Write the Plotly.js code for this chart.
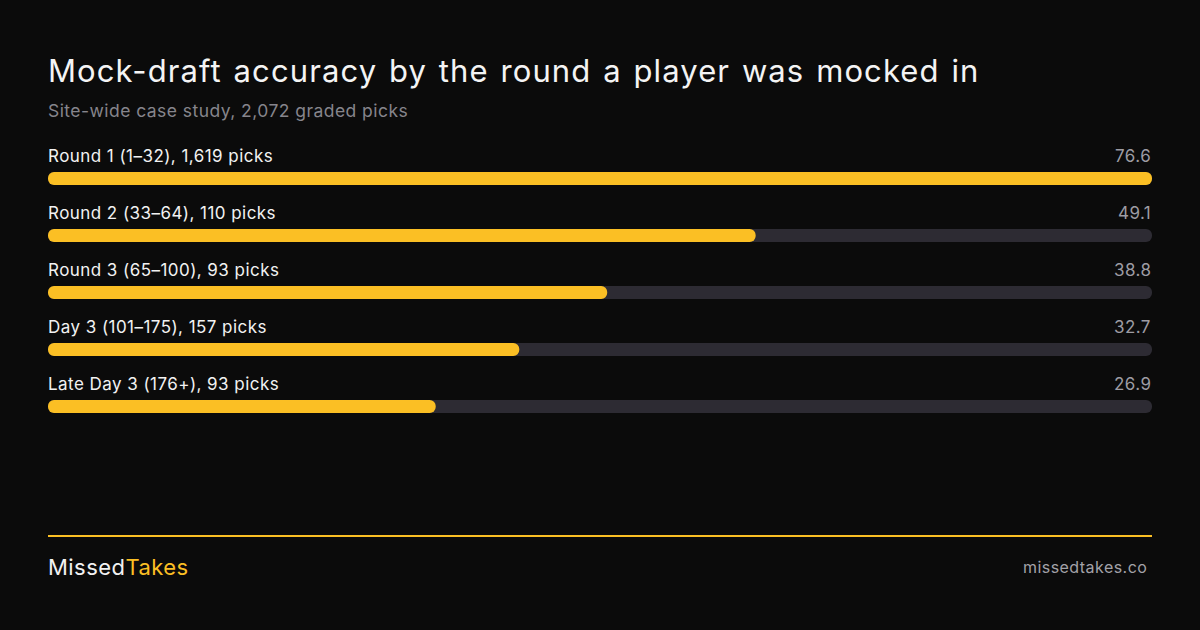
<!DOCTYPE html>
<html>
<head>
<meta charset="utf-8">
<script src="https://cdn.plot.ly/plotly-3.0.1.min.js"></script>
<style>
  html, body { margin: 0; padding: 0; background: #0b0b0b; }
  #chart { width: 1200px; height: 630px; }
  /* the reference type is set a little looser than Inter's default */
  .gtitle { letter-spacing: 1.1px; word-spacing: 2px; }
  .annotation-text { letter-spacing: 0.45px; }
</style>
</head>
<body>
<div id="chart"></div>
<script>
// data
var rounds = ["Round 1 (1–32)", "Round 2 (33–64)", "Round 3 (65–100)", "Day 3 (101–175)", "Late Day 3 (176+)"];
var picks = [1619, 110, 93, 157, 93];
var accuracy = [76.6, 49.1, 38.8, 32.7, 26.9];

var W = 1200, H = 630;
var M = {l: 48, r: 48, t: 150, b: 195};
var yellow = "#fbbf24";
var font = "Inter, 'Noto Sans', sans-serif";

// convert a pixel row to paper coords
function py(pix) {
    return (H - M.b - pix) / (H - M.t - M.b);
}

var idx = rounds.map(function(r, i){ return i; });
var maxVal = Math.max.apply(null, accuracy);
var labels = rounds.map(function(r, i){
    return r + ", " + picks[i].toLocaleString("en-US") + " picks";
});

// with an explicit base plotly rounds both ends of the bar
function pill(vals, color) {
    return {
        type: "bar", orientation: "h", y: idx, x: vals,
        base: vals.map(function(){ return 0; }),
        width: 0.23, marker: {color: color, cornerradius: 7},
        hoverinfo: "skip"
    };
}

var trackVals = accuracy.map(function(){ return maxVal; });
var traces = [pill(trackVals, "#2d2b33"), pill(accuracy, yellow)];

var annotations = [];
idx.forEach(function(i){
    annotations.push({
        x: 0, xref: "paper", xshift: -2, y: i, yref: "y",
        xanchor: "left", yanchor: "middle", yshift: 23,
        text: labels[i], showarrow: false,
        font: {family: font, size: 17, color: "#f2f2f2"}
    });
    annotations.push({
        x: 1, xref: "paper", xshift: 1, y: i, yref: "y",
        xanchor: "right", yanchor: "middle", yshift: 23,
        text: accuracy[i].toFixed(1), showarrow: false,
        font: {family: font, size: 17, color: "#9d9ca3"}
    });
});

annotations.push({
    x: 0, xref: "paper", xshift: -2, y: py(110), yref: "paper",
    xanchor: "left", yanchor: "middle",
    text: "Site-wide case study, 2,072 graded picks", showarrow: false,
    font: {family: font, size: 17.5, color: "#86858c"}
});
annotations.push({
    x: 0, xref: "paper", xshift: -2, y: py(567), yref: "paper",
    xanchor: "left", yanchor: "middle",
    text: "Missed<span style='color:" + yellow + "'>Takes</span>", showarrow: false,
    font: {family: font, size: 22, color: "#f2f2f2"}
});
annotations.push({
    x: 1, xref: "paper", xshift: -3, y: py(567), yref: "paper",
    xanchor: "right", yanchor: "middle",
    text: "missedtakes.co", showarrow: false,
    font: {family: font, size: 16, color: "#a3a2a8"}
});

var layout = {
    width: W, height: H,
    paper_bgcolor: "#0b0b0b",
    plot_bgcolor: "#0b0b0b",
    margin: M,
    showlegend: false,
    barmode: "overlay",
    title: {
        text: "Mock-draft accuracy by the round a player was mocked in",
        xref: "container", yref: "container",
        x: M.l / W, xanchor: "left",
        y: 1 - 71 / H, yanchor: "middle",
        font: {family: font, size: 31, color: "#f4f4f4"}
    },
    xaxis: {
        range: [0, maxVal], visible: false, fixedrange: true
    },
    yaxis: {
        range: [rounds.length - 0.5, -0.5], visible: false, fixedrange: true
    },
    shapes: [{
        type: "line", xref: "paper", yref: "paper",
        x0: 0, x1: 1, y0: py(536), y1: py(536),
        line: {color: yellow, width: 2}
    }],
    annotations: annotations
};

Plotly.newPlot("chart", traces, layout, {displayModeBar: false, staticPlot: true});
</script>
</body>
</html>
